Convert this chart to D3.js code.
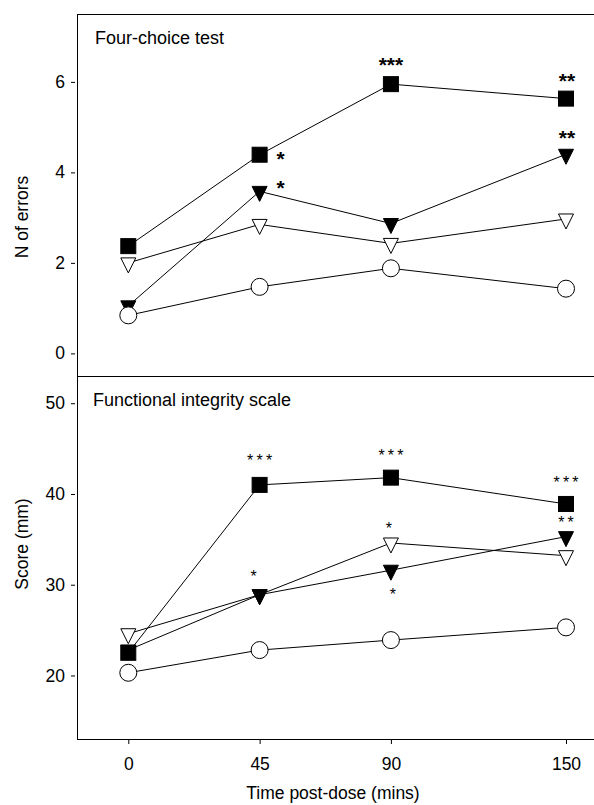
<!DOCTYPE html>
<html>
<head>
<meta charset="utf-8">
<script src="https://cdn.jsdelivr.net/npm/d3@7/dist/d3.min.js"></script>
<style>
  html, body { margin: 0; padding: 0; background: #fff; }
  svg { display: block; font-family: "Liberation Sans", Arial, sans-serif; }
</style>
</head>
<body>
<svg id="chart" width="594" height="805"></svg>
<script>
// ---------- data ----------
const times = [0, 45, 90, 150];
const xTickLabels = ["0", "45", "90", "150"];

// Four-choice test: N of errors
const errorsSquare   = [2.37, 4.39, 5.95, 5.63];
const errorsFillTri  = [1.05, 3.58, 2.87, 4.40];
const errorsOpenTri  = [2.00, 2.85, 2.43, 2.97];
const errorsCircle   = [0.84, 1.47, 1.88, 1.43];
const errorsTicks    = [0, 2, 4, 6];

// Functional integrity scale: Score (mm)
const scoreSquare    = [22.5, 41.0, 41.8, 38.9];
const scoreFillTri   = [22.8, 28.9, 31.6, 35.3];
const scoreOpenTri   = [24.6, 28.9, 34.6, 33.2];
const scoreCircle    = [20.3, 22.8, 23.9, 25.3];
const scoreTicks     = [20, 30, 40, 50];

// significance marks: [series, time index, text]
const errorsSig = [
  ["square", 1, "*"], ["fillTri", 1, "*"], ["square", 2, "***"],
  ["square", 3, "**"], ["fillTri", 3, "**"]
];
const scoreSig = [
  ["square", 1, "***"], ["fillTri", 1, "*"], ["square", 2, "***"],
  ["openTri", 2, "*"], ["fillTri", 2, "*"], ["square", 3, "***"], ["fillTri", 3, "**"]
];

// ---------- layout ----------
const svg = d3.select("#chart");
const W = 594;
const axisX = 77.5;
const topY = 14, midY = 376, botY = 739;

const x = d3.scaleLinear().domain([0, 150]).range([128.3, 566]);
const yTop = d3.scaleLinear().domain([-0.5, 7.5]).range([midY, topY]);
const yBot = d3.scaleLinear().domain([13, 53]).range([botY, midY]);

// annotation offsets (pixels) relative to the point
const errorsSigOffsets = [[21, 0], [21, -8], [0, -24], [1, -22], [1, -21]];
const scoreSigOffsets  = [[0, -28], [-6, -22], [0, -26], [-2, -18], [2, 20], [0, -25], [0, -18]];

// ---------- frame ----------
const frame = svg.append("g").attr("stroke", "#000").attr("stroke-width", 1).attr("fill", "none");
frame.append("line").attr("x1", axisX).attr("x2", W).attr("y1", topY + 0.5).attr("y2", topY + 0.5);
frame.append("line").attr("x1", axisX).attr("x2", W).attr("y1", midY + 0.5).attr("y2", midY + 0.5);
frame.append("line").attr("x1", axisX).attr("x2", W).attr("y1", botY + 0.5).attr("y2", botY + 0.5);
frame.append("line").attr("x1", axisX).attr("x2", axisX).attr("y1", topY).attr("y2", botY + 1);

// ---------- axes ----------
function styleAxis(g) {
  g.select(".domain").remove();
  g.selectAll(".tick line").attr("stroke", "#000");
  g.selectAll(".tick text").attr("fill", "#000").style("font-size", "17.5px")
    .style("font-family", "'Liberation Sans', Arial, sans-serif");
}
svg.append("g").attr("transform", `translate(75,0)`)
  .call(d3.axisLeft(yTop).tickValues(errorsTicks).tickSize(4).tickPadding(6).tickFormat(d3.format("d")))
  .call(styleAxis);
svg.append("g").attr("transform", `translate(75,0)`)
  .call(d3.axisLeft(yBot).tickValues(scoreTicks).tickSize(4).tickPadding(6).tickFormat(d3.format("d")))
  .call(styleAxis);
svg.append("g").attr("transform", `translate(0,${botY + 1})`)
  .call(d3.axisBottom(x).tickValues(times).tickSize(4).tickPadding(14)
    .tickFormat((d, i) => xTickLabels[i]))
  .call(styleAxis);

// ---------- titles ----------
svg.append("text").attr("x", 95).attr("y", 44).style("font-size", "18px").text("Four-choice test");
svg.append("text").attr("x", 93).attr("y", 406).style("font-size", "18px").text("Functional integrity scale");
svg.append("text").attr("transform", `translate(28,${(14 + 376) / 2 + 22}) rotate(-90)`)
  .attr("text-anchor", "middle").style("font-size", "17.5px").text("N of errors");
svg.append("text").attr("transform", `translate(28,${544}) rotate(-90)`)
  .attr("text-anchor", "middle").style("font-size", "17.5px").text("Score (mm)");
svg.append("text").attr("x", 333).attr("y", 799).attr("text-anchor", "middle")
  .style("font-size", "17.5px").text("Time post-dose (mins)");

// ---------- series ----------
const shapes = {
  square:  (g) => g.append("rect").attr("x", -7.5).attr("y", -7.5).attr("width", 15).attr("height", 15).attr("fill", "#000"),
  fillTri: (g) => g.append("path").attr("d", "M-7.5,-5L7.5,-5L0,10Z").attr("fill", "#000"),
  openTri: (g) => g.append("path").attr("d", "M-7.5,-5L7.5,-5L0,10Z").attr("fill", "#fff"),
  circle:  (g) => g.append("circle").attr("r", 8.5).attr("fill", "#fff")
};

function drawPanel(y, seriesMap, order, sig, sigOffsets, big) {
  const line = d3.line().x((d, i) => x(times[i])).y(d => y(d));
  const lg = svg.append("g");
  order.forEach(k => {
    lg.append("path").datum(seriesMap[k]).attr("d", line)
      .attr("fill", "none").attr("stroke", "#000").attr("stroke-width", 1);
  });
  order.forEach(k => {
    const mg = svg.append("g");
    seriesMap[k].forEach((v, i) => {
      const g = mg.append("g").attr("transform", `translate(${x(times[i])},${y(v)})`);
      shapes[k](g).attr("stroke", "#000").attr("stroke-width", 1);
    });
  });
  const sg = svg.append("g");
  sig.forEach((s, j) => {
    const [k, i, txt] = s;
    const [dx, dy] = sigOffsets[j];
    const cx = x(times[i]) + dx;
    const cy = y(seriesMap[k][i]) + dy;
    if (big) {
      sg.append("text").attr("x", cx).attr("y", cy + 11.5).attr("text-anchor", "middle")
        .style("font-size", "21px").style("font-weight", "bold").text(txt);
    } else {
      const ls = 3.2;
      sg.append("text").attr("x", cx + ls / 2).attr("y", cy + 9.5).attr("text-anchor", "middle")
        .style("font-size", "16px").style("letter-spacing", ls + "px").text(txt);
    }
  });
}

drawPanel(yTop,
  { square: errorsSquare, fillTri: errorsFillTri, openTri: errorsOpenTri, circle: errorsCircle },
  ["openTri", "fillTri", "square", "circle"], errorsSig, errorsSigOffsets, true);
drawPanel(yBot,
  { square: scoreSquare, fillTri: scoreFillTri, openTri: scoreOpenTri, circle: scoreCircle },
  ["openTri", "fillTri", "square", "circle"], scoreSig, scoreSigOffsets, false);
</script>
</body>
</html>
